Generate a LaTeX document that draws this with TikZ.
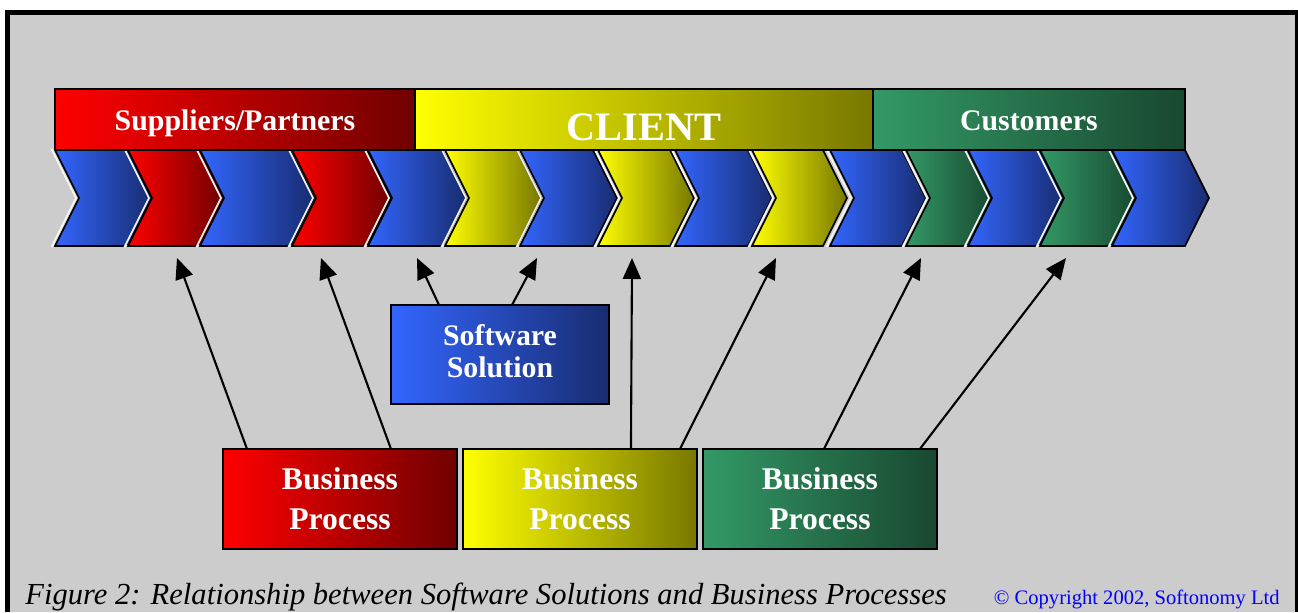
\documentclass[tikz,border=0pt]{standalone}
\usepackage{fontspec}
\setmainfont{Liberation Serif}
\usetikzlibrary{arrows.meta,positioning}

\definecolor{bg}{RGB}{204,204,204}
\definecolor{rd1}{RGB}{255,0,0}
\definecolor{rd2}{RGB}{112,0,0}
\definecolor{yl1}{RGB}{255,255,0}
\definecolor{yl2}{RGB}{120,120,0}
\definecolor{gr1}{RGB}{51,153,102}
\definecolor{gr2}{RGB}{24,72,48}
\definecolor{bl1}{RGB}{51,102,255}
\definecolor{bl2}{RGB}{24,44,112}
\definecolor{cpy}{RGB}{0,0,255}

\begin{document}
\begin{tikzpicture}[x=0.02cm,y=-0.02cm,>={Triangle[length=0.42cm,width=0.36cm]},
	head node/.style={draw,line width=1pt,inner sep=0pt,outer sep=0pt,minimum height=1.22cm,
		text height=12.5pt,text depth=0pt,text=white,font=\bfseries\fontsize{17}{20}\selectfont},
	box node/.style={draw,line width=1pt,inner sep=0pt,outer sep=0pt,minimum height=2cm,
		text=white,align=center,font=\bfseries\fontsize{18}{22.8}\selectfont},
	chev/.style={draw,line width=1pt}]
\useasboundingbox (0,0) rectangle (1298,612);
\fill[bg] (7.5,12.5) rectangle (1297,612);
\draw[line width=0.1cm] (7.5,612) -- (7.5,12.5) -- (1297,12.5) -- (1297,612);
% chevrons
\foreach \a/\b/\c in {55/128/bl,128/200/rd,200/290/bl,292/367/rd,368/442/bl,445/517/yl,
		520/593/bl,598/670/yl,675/748/bl,752/823/yl,830/902/bl,906/968/gr,968/1040/bl,
		1040/1112/gr,1112/1185/bl}{
	\draw[white!85!bg,line width=1pt,xshift=-0.06cm] (\a,150) -- (\b,150) -- (\b+24,198)
		-- (\b,246) -- (\a,246) -- (\a+24,198) -- cycle;
	\path[chev,left color=\c1,right color=\c2] (\a,150) -- (\b,150) -- (\b+24,198)
		-- (\b,246) -- (\a,246) -- (\a+24,198) -- cycle;
}
% headers
\node[head node,minimum width=7.2cm,left color=rd1,right color=rd2] (1) at (235,119.5) {Suppliers/Partners};
\node[head node,minimum width=9.16cm,left color=yl1,right color=yl2,text height=24.4pt,
	font=\bfseries\fontsize{23}{26}\selectfont] (2) [right=0pt of 1] {CLIENT};
\node[head node,minimum width=6.24cm,left color=gr1,right color=gr2] (3) [right=0pt of 2] {Customers};
% boxes
\node[box node,minimum width=4.36cm,minimum height=1.98cm,left color=bl1,right color=bl2,
	font=\bfseries\fontsize{17}{18.2}\selectfont] (4) at (500,354.5) {Software\\Solution\rule[-4.5pt]{0pt}{0pt}};
\node[box node,minimum width=4.68cm,left color=rd1,right color=rd2] (5) at (340,499) {Business\\Process};
\node[box node,minimum width=4.68cm,left color=yl1,right color=yl2] (6) [right=0.12cm of 5] {Business\\Process};
\node[box node,minimum width=4.68cm,left color=gr1,right color=gr2] (7) [right=0.12cm of 6] {Business\\Process};
% arrow tips
\foreach \n/\x in {1/177,2/321,3/417,4/537,5/632,6/776,7/921,8/1066}
	\coordinate (t\n) at (\x,258);
\path[->,line width=1.2pt]
	([xshift=0.48cm]5.north west) edge (t1)
	([xshift=3.36cm]5.north west) edge (t2)
	([xshift=0.96cm]4.north west) edge (t3)
	([xshift=2.42cm]4.north west) edge (t4)
	([xshift=3.36cm]6.north west) edge (t5)
	([xshift=4.34cm]6.north west) edge (t6)
	([xshift=2.42cm]7.north west) edge (t7)
	([xshift=4.34cm]7.north west) edge (t8);
% caption
\node[anchor=base west,inner sep=0pt,font=\itshape\fontsize{17.4}{20}\selectfont] (8) at (25,604)
	{Figure 2: Relationship between Software Solutions and Business Processes};
\node[anchor=base east,inner sep=0pt,text=cpy,font=\fontsize{11.7}{14}\selectfont] (9) at (1280,604)
	{© Copyright 2002, Softonomy Ltd};
\end{tikzpicture}
\end{document}
